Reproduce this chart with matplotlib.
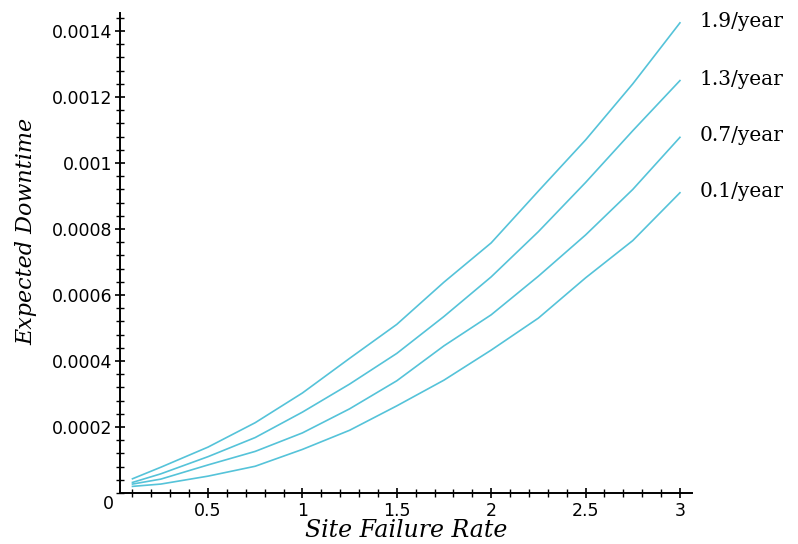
import matplotlib.pyplot as plt
import numpy as np
from matplotlib.ticker import MultipleLocator, FuncFormatter

# site failure rate (per year) on the x axis
rate = [0.1, 0.25, 0.5, 0.75, 1.0, 1.25, 1.5, 1.75, 2.0, 2.25, 2.5, 2.75, 3.0]

# expected downtime for each repair-event rate
down_19 = [0.000043, 0.000078, 0.000139, 0.000213, 0.000303, 0.000408, 0.000511,
           0.000639, 0.000758, 0.000915, 0.001070, 0.001240, 0.001425]
down_13 = [0.000032, 0.000058, 0.000110, 0.000168, 0.000245, 0.000330, 0.000423,
           0.000535, 0.000655, 0.000792, 0.000941, 0.001098, 0.001250]
down_07 = [0.000027, 0.000042, 0.000085, 0.000126, 0.000182, 0.000255, 0.000340,
           0.000446, 0.000540, 0.000657, 0.000782, 0.000920, 0.001078]
down_01 = [0.000020, 0.000027, 0.000051, 0.000081, 0.000132, 0.000190, 0.000264,
           0.000342, 0.000433, 0.000530, 0.000652, 0.000765, 0.000910]

series = [down_19, down_13, down_07, down_01]
labels = ["1.9/year", "1.3/year", "0.7/year", "0.1/year"]

line_color = "#55c3d9"

fig = plt.figure(figsize=(7.98, 5.44), dpi=100)
ax = fig.add_axes([0.1504, 0.0938, 0.7168, 0.8824])

for ys, lab in zip(series, labels):
    ax.plot(rate, ys, color=line_color, lw=1.2)
    ax.annotate(lab, xy=(rate[-1], ys[-1]), xytext=(14, 1),
                textcoords="offset points", va="center", ha="left",
                family="DejaVu Serif", fontsize=14.5, annotation_clip=False)

ax.set_xlim(0.034, 3.064)
ax.set_ylim(0, 0.001455)

for side in ("top", "right"):
    ax.spines[side].set_visible(False)
for side in ("left", "bottom"):
    ax.spines[side].set_linewidth(1.4)

ax.set_xticks([0.5, 1, 1.5, 2, 2.5, 3])
ax.set_xticklabels(["0.5", "1", "1.5", "2", "2.5", "3"])
ax.xaxis.set_minor_locator(MultipleLocator(0.1))
ax.set_yticks(np.arange(1, 8) * 0.0002)
ax.yaxis.set_major_formatter(FuncFormatter(lambda v, p: "%g" % round(v, 6)))
ax.yaxis.set_minor_locator(MultipleLocator(0.00004))

ax.tick_params(which="major", direction="inout", length=7, width=1.2,
               labelsize=12.5, labelfontfamily="DejaVu Sans")
ax.tick_params(which="minor", direction="inout", length=6, width=1.0)
ax.tick_params(axis="x", pad=3)
ax.tick_params(axis="y", pad=2)

# shared origin label
ax.text(-0.021, -0.022, "0", transform=ax.transAxes, ha="center", va="center",
        family="DejaVu Sans", fontsize=12.5)

ax.set_xlabel("Site Failure Rate", family="DejaVu Serif", style="italic",
              fontsize=17, labelpad=-1)
ax.set_ylabel("Expected Downtime", family="DejaVu Serif", style="italic",
              fontsize=16)
ax.yaxis.set_label_coords(-0.145, 0.544)

fig.savefig("out.png", dpi=100)
